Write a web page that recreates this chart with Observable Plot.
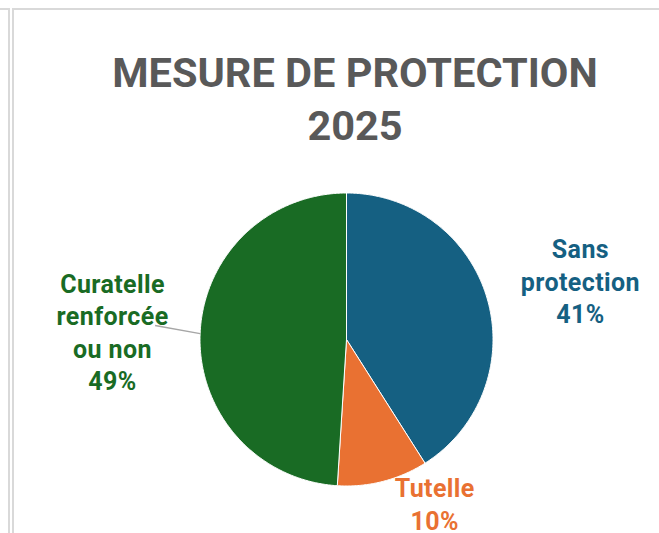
<!DOCTYPE html>
<html>
<head>
<meta charset="utf-8">
<script src="https://cdn.jsdelivr.net/npm/d3@7"></script>
<script src="https://cdn.jsdelivr.net/npm/@observablehq/plot@0.6"></script>
<style>
  body { margin: 0; background: #fff; }
  #wrap { position: relative; width: 659px; height: 533px; overflow: hidden; font-family: Roboto, "Liberation Sans", sans-serif; background: #fff; }
  .ln { position: absolute; background: #d9d9d9; }
  #title { position: absolute; left: 0; top: 46px; width: 710px; text-align: center; color: #595959;
           font-weight: bold; font-size: 41.5px; line-height: 53px; margin: 0; }
  #chart { position: absolute; left: 0; top: 160px; }
  #chart text { letter-spacing: 0.4px; }
</style>
</head>
<body>
<div id="wrap">
  <div class="ln" style="left:0;top:8px;width:10px;height:2px"></div>
  <div class="ln" style="left:8px;top:8px;width:2px;height:525px"></div>
  <div class="ln" style="left:12px;top:8px;width:647px;height:2px"></div>
  <div class="ln" style="left:12px;top:8px;width:2px;height:525px"></div>
  <h1 id="title">MESURE DE PROTECTION<br>2025</h1>
  <div id="chart"></div>
</div>
<script>
// ---- data ----
const categories = ["Sans protection", "Tutelle", "Curatelle renforcée ou non"];
const values = [41, 10, 49];
const labelTexts = ["Sans\nprotection\n41%", "Tutelle\n10%", "Curatelle\nrenforcée\nou non\n49%"];
const colors = ["#156082", "#E97132", "#196B24"];

// ---- layout (label placement relative to slice mid-angle) ----
const labelLayout = {
  "Sans protection": {r: 1.647, dAngle: 2.0},
  "Tutelle": {r: 1.27, dAngle: -13.9},
  "Curatelle renforcée ou non": {r: 1.598, dAngle: 0.2}
};

const rows = categories.map((c, i) => ({cat: c, value: values[i], label: labelTexts[i]}));
const arcs = d3.pie().sort(null).value(d => d.value)(rows);

// slice polygons (unit circle, angle clockwise from 12 o'clock)
const polys = [];
for (const a of arcs) {
  polys.push({cat: a.data.cat, x: 0, y: 0});
  const n = Math.max(8, Math.ceil((a.endAngle - a.startAngle) / 0.01));
  for (let k = 0; k <= n; k++) {
    const t = a.startAngle + (a.endAngle - a.startAngle) * k / n;
    polys.push({cat: a.data.cat, x: Math.sin(t), y: Math.cos(t)});
  }
  polys.push({cat: a.data.cat, x: 0, y: 0});
}

const deg = Math.PI / 180;
const labels = arcs.map(a => {
  const L = labelLayout[a.data.cat];
  const t = (a.startAngle + a.endAngle) / 2 + L.dAngle * deg;
  return {cat: a.data.cat, label: a.data.label, x: L.r * Math.sin(t), y: L.r * Math.cos(t)};
});

// leader line for the Curatelle label
const leader = [{
  x1: Math.sin(272.3 * deg), y1: Math.cos(272.3 * deg),
  x2: 1.31 * Math.sin(274.2 * deg), y2: 1.31 * Math.cos(274.2 * deg)
}];

const cx = 346, cy = 179, R = 146.5;
const chart = Plot.plot({
  width: 659,
  height: 373,
  margin: 0,
  x: {domain: [-1, 1], range: [cx - R, cx + R], axis: null},
  y: {domain: [-1, 1], range: [cy + R, cy - R], axis: null},
  color: {domain: categories, range: colors},
  style: {background: "transparent", overflow: "visible"},
  marks: [
    Plot.line(polys, {x: "x", y: "y", z: "cat", fill: "cat", stroke: "white", strokeWidth: 1, strokeLinejoin: "round", curve: "linear"}),
    Plot.link(leader, {x1: "x1", y1: "y1", x2: "x2", y2: "y2", stroke: "#a6a6a6", strokeWidth: 1.5}),
    Plot.text(labels, {x: "x", y: "y", text: "label", fill: "cat", fontSize: 25, fontWeight: "bold",
      fontFamily: "Roboto", lineAnchor: "middle", lineHeight: 1.3, textAnchor: "middle"})
  ]
});
document.getElementById("chart").appendChild(chart);
</script>
</body>
</html>
